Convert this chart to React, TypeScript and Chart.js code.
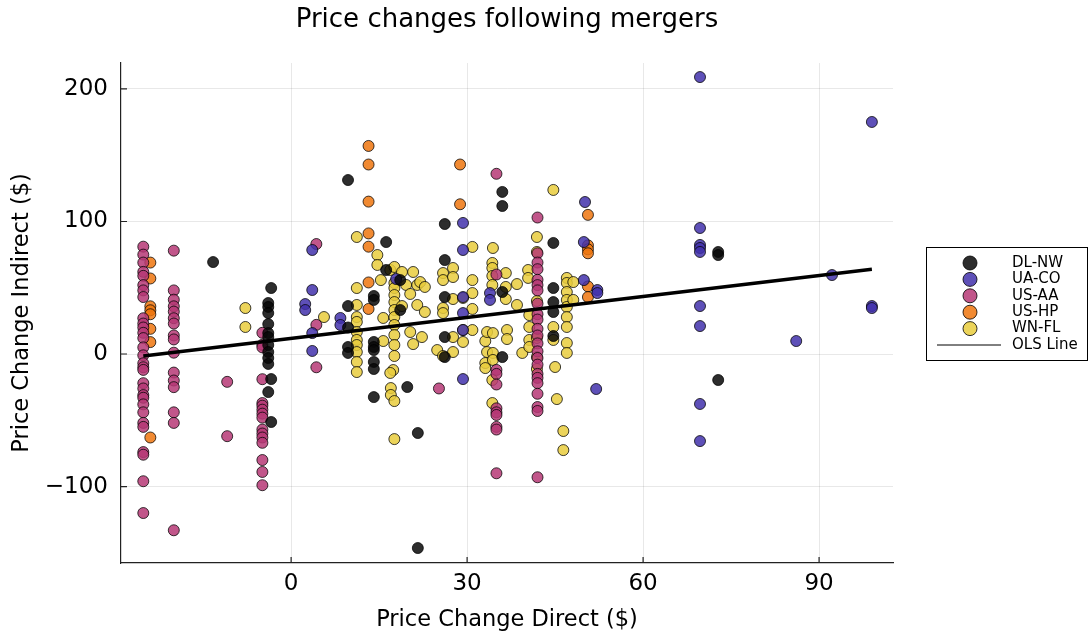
import React, { useEffect, useRef } from "react";
import { Chart, registerables } from "chart.js";
Chart.register(...registerables);

const FONT = "'DejaVu Sans', sans-serif";

const chartTitle = "Price changes following mergers";
const xTitle = "Price Change Direct ($)";
const yTitle = "Price Change Indirect ($)";
const xTickValues = [0, 30, 60, 90];
const yTickValues = [-100, 0, 100, 200];
const xRange = [-29, 102.6];
const yRange = [-157.7, 219.6];

const seriesNames = ["DL-NW", "UA-CO", "US-AA", "US-HP", "WN-FL"];
const seriesFill = [
  "rgba(8,8,8,0.85)",
  "rgba(66,49,172,0.85)",
  "rgba(182,56,118,0.85)",
  "rgba(238,118,14,0.85)",
  "rgba(233,205,61,0.85)",
];
const olsLabel = "OLS Line";
const olsIntercept = 11.8;
const olsSlope = 0.527;

type P = [number, number];
const col = (x: number, ys: number[]): P[] => ys.map((y) => [x, y] as P);

const dlnwPoints: P[] = [
  [-13.3, 69.4], [-3.4, 49.8], [-3.9, 38.5], [-3.9, 35.5], [-3.9, 30.9], [-3.9, 22.6],
  [-3.9, 15.8], [-3.9, 12.8], [-3.9, 6.8], [-3.9, 1.5], [-3.9, -3], [-3.9, -7.5],
  [-3.4, -18.9], [-3.9, -28.7], [-3.4, -51.3], [9.7, 131.3], [9.7, 36.2], [9.7, 20],
  [9.7, 5.3], [9.7, 0.8], [14.1, 43.8], [14.1, 40.8], [14.1, 9.1], [14.1, 5.3], [14.1, 3],
  [14.1, -6], [14.1, -11.3], [14.1, -32.5], [16.2, 84.5], [16.2, 63.4], [18.6, 55.8],
  [18.6, 33.2], [19.8, -24.9], [21.6, -59.6], [21.6, -146.4], [26.2, 98.1], [26.2, 70.9],
  [26.2, 43], [26.2, 12.8], [26.2, -2.3], [36, 122.3], [36, 111.7], [36, 46.8], [36, -2.3],
  [44.7, 83.8], [44.7, 49.8], [44.7, 39.2], [44.7, 31.7], [44.7, 13.6], [72.8, 77],
  [72.8, 74.7], [72.8, -19.6],
];

const uacoPoints: P[] = [
  [2.4, 37.7], [2.4, 33.2], [3.6, 78.5], [3.6, 48.3], [3.6, 15.8], [3.6, 2.3], [8.4, 27.2],
  [8.4, 21.9], [17.9, 56.6], [29.3, 98.9], [29.3, 78.5], [29.3, 43], [29.3, 30.9], [29.3, 18.1],
  [29.3, -18.9], [33.9, 46], [33.9, 40.8], [50.1, 114.7], [49.9, 84.5], [49.9, 55.8],
  [52.2, 48.3], [52.2, 46], [52, -26.4], [69.7, 209], [69.7, 95.1], [69.7, 82.3], [69.7, 80],
  [69.7, 77], [69.7, 36.2], [69.7, 21.1], [69.7, -37.7], [69.7, -65.7], [86.1, 9.8],
  [92.2, 59.6], [99, 175.1], [99, 36.2], [99, 34.7],
];

const usaaPoints: P[] = [
  ...col(-25.2, [81, 75, 69, 62, 59, 52, 48, 43, 27, 23, 20, 16, 12, 5, -1, -7, -10, -12, -22, -26, -31, -33, -38, -44, -52, -55, -74, -76, -96, -120]),
  ...col(-20, [78, 48, 41, 36, 32, 27, 23, 14, 11, 1, -14, -20, -25, -44, -52, -133]),
  ...col(-10.9, [-21, -62]),
  ...col(-4.9, [16, 7, 5, -19, -37, -39, -42, -45, -48, -57, -60, -63, -67, -80, -89, -99]),
  ...col(4.3, [83, 22, -10]),
  ...col(25.2, [-26]),
  ...col(35, [136, 60, -12, -15, -23, -41, -44, -46, -55, -57, -90]),
  ...col(42, [103, 76, 69, 64, 56, 52, 48, 38, 30, 26, 19, 14, 8, 2, -3, -8, -15, -18, -22, -30, -40, -43, -93]),
];

const ushpPoints: P[] = [
  ...col(-24, [69, 57, 36, 33, 30, 19, 9, -63]),
  ...col(13.2, [157, 143, 115, 91, 81, 54, 34]),
  ...col(28.8, [143, 113]),
  ...col(50.6, [105, 82, 79, 76, 51, 43]),
];

const wnflPoints: P[] = [
  [-7.8, 34.7], [-7.8, 20.4], [5.6, 27.9], [11.2, 88.3], [11.2, 49.8], [11.2, 37], [11.2, 27.9],
  [11.2, 24.2], [11.2, 16.6], [11.2, 10.6], [11.2, 6.8], [11.2, 1.5], [11.2, -6], [11.2, -13.6],
  [14.7, 74.7], [14.7, 67.2], [15.3, 55.8], [15.7, 27.2], [15.7, 9.8], [16.9, 63.4], [17.6, 65.7],
  [17.6, 53.6], [17.6, 49.8], [17.6, 44.5], [17.6, 39.2], [17.6, 33.2], [17.6, 27.9], [17.6, 21.9],
  [17.6, 14.3], [17.6, 6.8], [17.6, -1.5], [17.4, -12.1], [16.9, -14.3], [17, -25.7], [17, -30.9],
  [17.6, -35.5], [17.6, -64.2], [18.9, 61.9], [18.9, 36.2], [19.6, 52.1], [20.3, 45.3], [20.3, 16.6],
  [20.8, 61.9], [20.8, 7.5], [21.5, 52.1], [21.5, 37], [22, 54.3], [22.3, 12.8], [22.8, 50.6],
  [22.8, 31.7], [24.9, 3], [25.9, -1.5], [25.9, 61.1], [25.9, 55.8], [25.9, 34.7], [25.9, 30.9],
  [27.6, 64.9], [27.6, 58.1], [27.6, 41.5], [27.6, 12.8], [27.6, 1.5], [29.3, 42.3], [29.3, 18.1],
  [29.3, 9.1], [30.9, 80.8], [30.9, 55.8], [30.9, 46], [30.9, 34], [30.9, 18.1], [33.1, 9.8],
  [33.1, -6.8], [33.1, -10.6], [33.4, 16.6], [33.4, 1.5], [34.3, 68.7], [34.3, 64.9], [34.3, 58.9],
  [34.3, 52.1], [34.4, 80], [34.4, 15.8], [34.4, 0.8], [34.4, -4.5], [34.3, -19.6], [34.3, -37],
  [36.6, 61.1], [36.6, 50.6], [36.6, 41.5], [36.8, 18.1], [36.8, 11.3], [38.5, 52.8], [38.5, 37],
  [39.4, 0.8], [40.4, 63.4], [40.4, 57.4], [40.6, 29.4], [40.6, 20.4], [40.6, 10.6], [40.6, 5.3],
  [41.9, 88.3], [41.9, 77], [41.9, 40], [41.9, 12.1], [41.9, -2.3], [41.9, -11.3], [44.7, 123.8],
  [44.7, 20.4], [44.7, 10.6], [45, -9.8], [45.3, -34], [46.4, -58.1], [46.4, -72.5], [47, 57.4],
  [47, 53.6], [47, 46.8], [47, 40.8], [47, 35.5], [47, 27.9], [47, 20.4], [47, 8.3], [47, 0.8],
  [48.1, 54.3], [48.1, 40.8],
];

const seriesPoints = [dlnwPoints, uacoPoints, usaaPoints, ushpPoints, wnflPoints];

const inwardTicks = {
  id: "inwardTicks",
  afterDraw(chart: any) {
    const { ctx, chartArea, scales } = chart;
    ctx.save();
    ctx.strokeStyle = "#222";
    ctx.lineWidth = 1.2;
    ctx.beginPath();
    xTickValues.forEach((v) => {
      const px = scales.x.getPixelForValue(v);
      ctx.moveTo(px, chartArea.bottom);
      ctx.lineTo(px, chartArea.bottom - 6);
    });
    yTickValues.forEach((v) => {
      const py = scales.y.getPixelForValue(v);
      ctx.moveTo(chartArea.left, py);
      ctx.lineTo(chartArea.left + 6, py);
    });
    ctx.stroke();
    ctx.restore();
  },
};

const boxLegend = {
  id: "boxLegend",
  afterDraw(chart: any) {
    const { ctx, chartArea } = chart;
    const left = chartArea.right + 33;
    const top = 247;
    const w = 162;
    const h = 114;
    ctx.save();
    ctx.fillStyle = "#fff";
    ctx.fillRect(left, top, w, h);
    ctx.strokeStyle = "#000";
    ctx.lineWidth = 1;
    ctx.strokeRect(left + 0.5, top + 0.5, w - 1, h - 1);
    ctx.font = `15px ${FONT}`;
    ctx.textBaseline = "middle";
    ctx.textAlign = "left";
    const rowH = 16.4;
    const y0 = top + 16;
    seriesNames.forEach((name, i) => {
      const y = y0 + i * rowH;
      ctx.beginPath();
      ctx.arc(left + 44, y, 7, 0, Math.PI * 2);
      ctx.fillStyle = seriesFill[i];
      ctx.fill();
      ctx.strokeStyle = "rgba(0,0,0,0.8)";
      ctx.lineWidth = 1;
      ctx.stroke();
      ctx.fillStyle = "#000";
      ctx.fillText(name, left + 86, y);
    });
    const yl = y0 + seriesNames.length * rowH;
    ctx.beginPath();
    ctx.moveTo(left + 11, yl);
    ctx.lineTo(left + 75, yl);
    ctx.strokeStyle = "#000";
    ctx.lineWidth = 1;
    ctx.stroke();
    ctx.fillStyle = "#000";
    ctx.fillText(olsLabel, left + 86, yl);
    ctx.restore();
  },
};

export default function App() {
  const ref = useRef<HTMLCanvasElement | null>(null);
  useEffect(() => {
    if (!ref.current) return;
    const allX = seriesPoints.flat().map((p) => p[0]);
    const minX = Math.min(...allX);
    const maxX = Math.max(...allX);
    const datasets: any[] = seriesNames.map((name, i) => ({
      type: "scatter",
      label: name,
      data: seriesPoints[i].map(([x, y]) => ({ x, y })),
      backgroundColor: seriesFill[i],
      borderColor: "rgba(0,0,0,0.75)",
      borderWidth: 1,
      pointRadius: 5.5,
      order: 2,
    }));
    datasets.push({
      type: "line",
      label: olsLabel,
      data: [minX, maxX].map((x) => ({ x, y: olsIntercept + olsSlope * x })),
      borderColor: "#000",
      borderWidth: 3.5,
      pointRadius: 0,
      fill: false,
      order: 1,
    });
    const tickFmt = (v: any) => String(v).replace("-", "\u2212");
    const chart = new Chart(ref.current, {
      type: "scatter",
      data: { datasets },
      options: {
        responsive: false,
        animation: false,
        layout: { padding: { left: 0, right: 196, top: 0, bottom: 0 } },
        plugins: {
          legend: { display: false },
          tooltip: { enabled: false },
          title: {
            display: true,
            text: chartTitle,
            fullSize: false,
            color: "#000",
            font: { family: FONT, size: 26, weight: "normal" },
            padding: { top: 4.4, bottom: 27.4 },
          },
        },
        scales: {
          x: {
            type: "linear",
            min: xRange[0],
            max: xRange[1],
            afterBuildTicks: (s: any) => { s.ticks = xTickValues.map((v) => ({ value: v })); },
            afterFit: (s: any) => { s.height = 71; },
            grid: { color: "rgba(0,0,0,0.09)", drawTicks: false },
            border: { display: true, color: "#222", width: 1.2 },
            ticks: { color: "#000", padding: 7, font: { family: FONT, size: 23 }, callback: tickFmt },
            title: { display: true, text: xTitle, color: "#000", font: { family: FONT, size: 22.5 }, padding: { top: 0, bottom: 0.5 } },
          },
          y: {
            type: "linear",
            min: yRange[0],
            max: yRange[1],
            afterBuildTicks: (s: any) => { s.ticks = yTickValues.map((v) => ({ value: v })); },
            afterFit: (s: any) => { s.width = 121; },
            grid: { color: "rgba(0,0,0,0.09)", drawTicks: false },
            border: { display: true, color: "#222", width: 1.2 },
            ticks: { color: "#000", padding: 13, font: { family: FONT, size: 23 }, callback: tickFmt },
            title: { display: true, text: yTitle, color: "#000", font: { family: FONT, size: 22.5 }, padding: { top: 8.5, bottom: 0 } },
          },
        },
      },
      plugins: [inwardTicks, boxLegend],
    } as any);
    return () => chart.destroy();
  }, []);
  return (
    <div style={{ position: "fixed", left: 0, top: 0, width: 1089, height: 634, background: "#fff" }}>
      <canvas ref={ref} width={1089} height={634} style={{ display: "block" }} />
    </div>
  );
}
